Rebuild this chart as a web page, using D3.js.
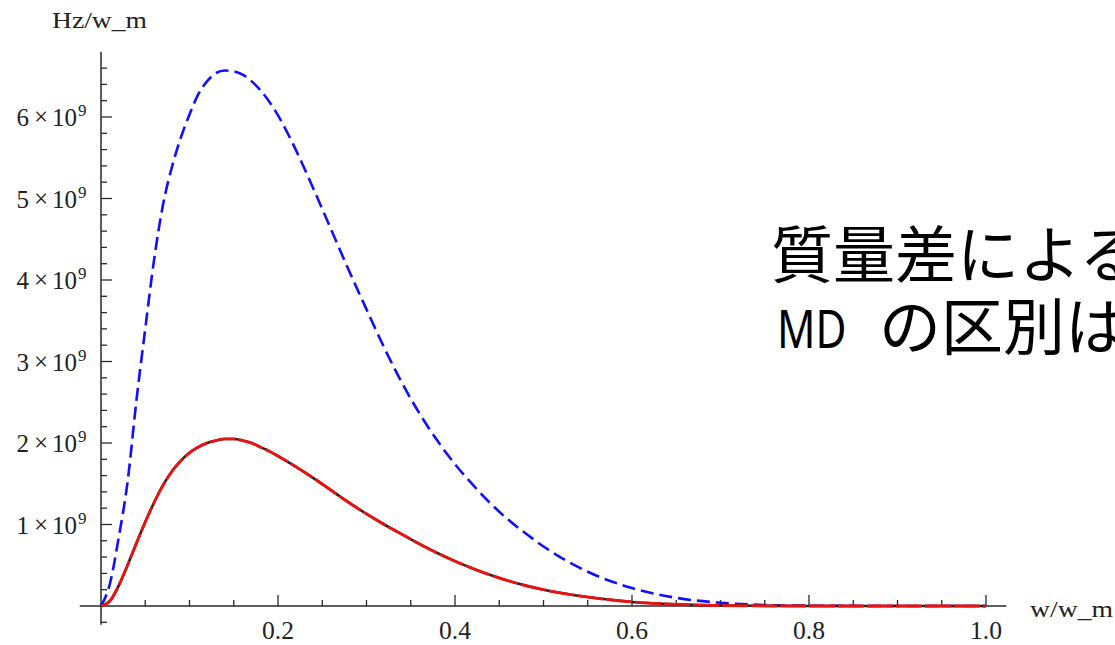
<!DOCTYPE html>
<html>
<head>
<meta charset="utf-8">
<script src="https://cdn.jsdelivr.net/npm/d3@7"></script>
<style>
  html, body { margin: 0; padding: 0; background: #fff; overflow: hidden; }
  svg { display: block; }
</style>
</head>
<body>
<svg id="chart" width="1115" height="645"></svg>
<script>
// Frequency axis w/w_m
const wGrid = [0, 0.01, 0.02, 0.03, 0.04, 0.05, 0.06, 0.07, 0.08, 0.09, 0.10, 0.11, 0.12, 0.13, 0.14, 0.15,
  0.16, 0.17, 0.18, 0.19, 0.20, 0.22, 0.24, 0.26, 0.28, 0.30, 0.32, 0.34, 0.36, 0.38, 0.40, 0.42, 0.44,
  0.46, 0.48, 0.50, 0.55, 0.60, 0.65, 0.70, 0.75, 0.80, 0.90, 1.0];

// Spectrum, dashed blue curve (units of 1e9 Hz/w_m)
const blueHz = [0, 0.27, 0.84, 1.52, 2.52, 3.40, 4.25, 4.92, 5.38, 5.74, 6.03, 6.28, 6.44, 6.54, 6.57, 6.56,
  6.52, 6.44, 6.33, 6.19, 6.02, 5.60, 5.12, 4.62, 4.12, 3.64, 3.17, 2.74, 2.36, 2.03, 1.74, 1.49, 1.26,
  1.06, 0.89, 0.73, 0.42, 0.22, 0.10, 0.04, 0.012, 0.004, 0, 0];

// Spectrum, red curve over black (units of 1e9 Hz/w_m)
const redHz = [0, 0.06, 0.25, 0.50, 0.77, 1.03, 1.27, 1.48, 1.65, 1.78, 1.88, 1.95, 2.00, 2.03, 2.05, 2.05,
  2.03, 2.00, 1.95, 1.90, 1.84, 1.71, 1.57, 1.42, 1.27, 1.13, 1.00, 0.88, 0.76, 0.65, 0.55, 0.46, 0.38,
  0.31, 0.25, 0.20, 0.11, 0.05, 0.02, 0.006, 0.002, 0, 0, 0];

// Axis ticks
const xMajorTicks = [0.2, 0.4, 0.6, 0.8, 1.0];
const xTickLabels = ["0.2", "0.4", "0.6", "0.8", "1.0"];
const yMajorTicks = [1, 2, 3, 4, 5, 6];
const yTickLabels = ["1", "2", "3", "4", "5", "6"];

const svg = d3.select("#chart");
const serif = "'Liberation Serif', 'Times New Roman', serif";
const axisColor = "#2a2a2a";
const labelColor = "#222";

const x = d3.scaleLinear().domain([0, 1]).range([101, 986]);
const y = d3.scaleLinear().domain([0, 1]).range([606, 524.5]);

// X axis
const xMinor = d3.range(1, 21).map(i => i * 0.05).filter(v => !xMajorTicks.some(m => Math.abs(m - v) < 1e-6));
svg.append("line")
  .attr("x1", x(-0.024)).attr("x2", x(1.023))
  .attr("y1", y(0)).attr("y2", y(0))
  .attr("stroke", axisColor).attr("stroke-width", 1.5);
svg.append("g").selectAll("line").data(xMinor).join("line")
  .attr("x1", d => x(d)).attr("x2", d => x(d))
  .attr("y1", y(0)).attr("y2", y(0) - 6)
  .attr("stroke", axisColor).attr("stroke-width", 1.3);
svg.append("g").selectAll("line").data(xMajorTicks).join("line")
  .attr("x1", d => x(d)).attr("x2", d => x(d))
  .attr("y1", y(0)).attr("y2", y(0) - 11)
  .attr("stroke", axisColor).attr("stroke-width", 1.3);
svg.append("g").selectAll("text").data(xMajorTicks).join("text")
  .attr("x", d => x(d)).attr("y", 639)
  .attr("text-anchor", "middle")
  .attr("font-family", serif).attr("font-size", 25)
  .attr("fill", labelColor)
  .attr("textLength", 32).attr("lengthAdjust", "spacingAndGlyphs")
  .text((d, i) => xTickLabels[i]);
svg.append("text")
  .attr("x", 1030).attr("y", 617)
  .attr("font-family", serif).attr("font-size", 24)
  .attr("fill", labelColor)
  .attr("textLength", 83).attr("lengthAdjust", "spacingAndGlyphs")
  .text("w/w_m");

// Y axis
const yMinor = d3.range(-1, 34).map(i => i * 0.2).filter(v => Math.abs(v) > 1e-6 && !yMajorTicks.some(m => Math.abs(m - v) < 1e-6));
svg.append("line")
  .attr("x1", x(0)).attr("x2", x(0))
  .attr("y1", y(-0.23)).attr("y2", y(6.8))
  .attr("stroke", axisColor).attr("stroke-width", 1.5);
svg.append("g").selectAll("line").data(yMinor).join("line")
  .attr("x1", x(0)).attr("x2", x(0) + 6)
  .attr("y1", d => y(d)).attr("y2", d => y(d))
  .attr("stroke", axisColor).attr("stroke-width", 1.3);
svg.append("g").selectAll("line").data(yMajorTicks).join("line")
  .attr("x1", x(0)).attr("x2", x(0) + 11)
  .attr("y1", d => y(d)).attr("y2", d => y(d))
  .attr("stroke", axisColor).attr("stroke-width", 1.3);

// Y tick labels: mantissa × 10 with superscript exponent
const yLab = svg.append("g").selectAll("g").data(yMajorTicks).join("g")
  .attr("transform", d => `translate(0,${y(d) + 9})`)
  .attr("font-family", serif).attr("fill", labelColor);
yLab.append("text").attr("x", 29).attr("text-anchor", "end").attr("font-size", 25)
  .text((d, i) => yTickLabels[i]);
yLab.append("text").attr("x", 41).attr("text-anchor", "middle").attr("font-size", 25).attr("y", -1)
  .text("\u00d7");
yLab.append("text").attr("x", 52).attr("font-size", 25)
  .attr("textLength", 25).attr("lengthAdjust", "spacingAndGlyphs")
  .text("10");
yLab.append("text").attr("x", 78).attr("y", -10).attr("font-size", 17)
  .text("9");

svg.append("text")
  .attr("x", 52).attr("y", 28)
  .attr("font-family", serif).attr("font-size", 24)
  .attr("fill", labelColor)
  .attr("textLength", 95).attr("lengthAdjust", "spacingAndGlyphs")
  .text("Hz/w_m");

// Curves
const blueLine = d3.line().x((d, i) => x(wGrid[i])).y(d => y(d)).curve(d3.curveMonotoneX);
svg.append("path")
  .attr("d", blueLine(blueHz))
  .attr("fill", "none").attr("stroke", "#1010ff")
  .attr("stroke-width", 2.6).attr("stroke-dasharray", "13,6");

const redLine = d3.line().x((d, i) => x(wGrid[i])).y(d => y(d)).curve(d3.curveMonotoneX);
svg.append("path")
  .attr("d", redLine(redHz))
  .attr("fill", "none").attr("stroke", "#222")
  .attr("stroke-width", 2.6);
svg.append("path")
  .attr("d", redLine(redHz))
  .attr("fill", "none").attr("stroke", "#f01010")
  .attr("stroke-width", 2.8).attr("stroke-dasharray", "26,3");

// Slide caption
const cjk = "'Noto Sans CJK JP', 'Noto Sans', sans-serif";
svg.append("text")
  .attr("x", 771).attr("y", 278)
  .attr("font-family", cjk).attr("font-size", 62)
  .attr("fill", "#000")
  .text("質量差による");
svg.append("text")
  .attr("transform", "translate(777,348) scale(0.8,1)")
  .attr("font-family", "'Noto Sans', sans-serif").attr("font-size", 53)
  .attr("fill", "#000")
  .text("MD");
svg.append("text")
  .attr("x", 879).attr("y", 350)
  .attr("font-family", cjk).attr("font-size", 62)
  .attr("fill", "#000")
  .text("の区別は");
</script>
</body>
</html>
